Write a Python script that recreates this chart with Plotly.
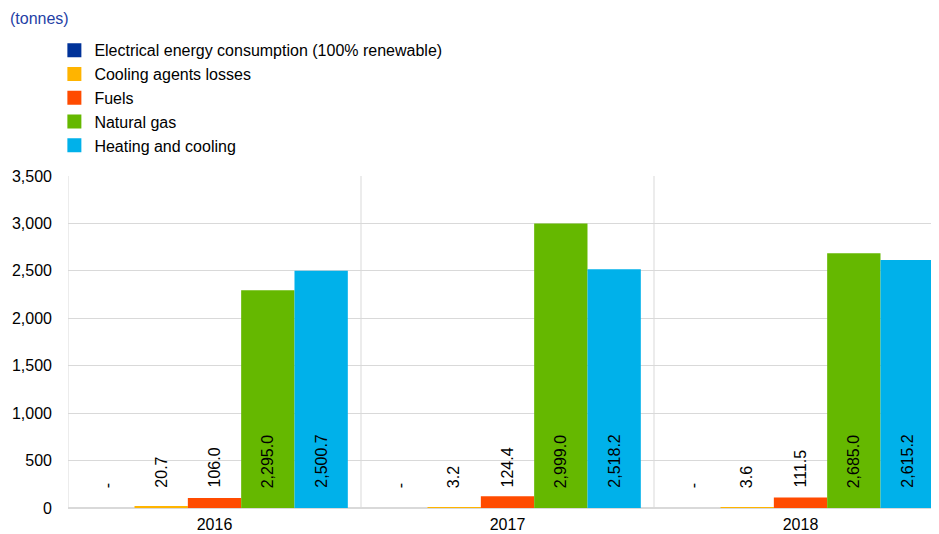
import plotly.graph_objects as go

FONT_FAMILY = "Arial, Liberation Sans, sans-serif"

years = ["2016", "2017", "2018"]
series_names = [
    "Electrical energy consumption (100% renewable)",
    "Cooling agents losses",
    "Fuels",
    "Natural gas",
    "Heating and cooling",
]
electrical = [0.0, 0.0, 0.0]
cooling_agents = [20.7, 3.2, 3.6]
fuels = [106.0, 124.4, 111.5]
natural_gas = [2295.0, 2999.0, 2685.0]
heating_cooling = [2500.7, 2518.2, 2615.2]
colors = ["#003299", "#FFB400", "#FF4B00", "#65B800", "#00B1EA"]

all_values = [electrical, cooling_agents, fuels, natural_gas, heating_cooling]

BARGAP = 0.09
n = len(series_names)
bar_w = (1 - BARGAP) / n
xpos = list(range(len(years)))


def fmt(v):
    return "-" if v == 0 else f"{v:,.1f}"


fig = go.Figure()
annotations = []
for j, (name, vals, col) in enumerate(zip(series_names, all_values, colors)):
    fig.add_trace(
        go.Bar(
            x=xpos,
            y=vals,
            name=name,
            marker=dict(color=col, line=dict(width=0)),
            hoverinfo="skip",
            showlegend=False,
        )
    )
    off = (j - (n - 1) / 2) * bar_w
    for i, v in enumerate(vals):
        annotations.append(
            dict(
                x=i + off, y=190, xref="x", yref="y",
                text=fmt(v), textangle=-90, showarrow=False,
                xanchor="center", yanchor="bottom",
                font=dict(family=FONT_FAMILY, size=16, color="#000000"),
            )
        )

# legend-only entries, so the legend squares can be a bit bigger
for name, col in zip(series_names, colors):
    fig.add_trace(
        go.Scatter(
            x=[None], y=[None], mode="markers", name=name,
            marker=dict(symbol="square", size=14, color=col),
            hoverinfo="skip",
        )
    )

# page is offset by the browser's 8px body margin
shapes = [
    dict(type="line", xref="x", yref="paper", x0=b, x1=b, y0=0, y1=1,
         line=dict(color="#D9D9D9", width=1), layer="below")
    for b in [-0.5, 0.5, 1.5]
]

fig.update_layout(
    barmode="group",
    bargap=BARGAP,
    bargroupgap=0,
    font=dict(family=FONT_FAMILY, size=16, color="#000000"),
    plot_bgcolor="white",
    paper_bgcolor="white",
    width=939,
    height=534,
    margin=dict(l=60, r=0, t=168, b=34),
    title=dict(
        text="(tonnes)", x=2 / 939, xref="container", xanchor="left",
        y=1 - 10 / 534, yref="container", yanchor="middle",
        font=dict(family=FONT_FAMILY, size=16, color="#1F3FA6"),
    ),
    legend=dict(
        x=-0.0155, y=1.43, xanchor="left", yanchor="top",
        traceorder="normal", bgcolor="rgba(0,0,0,0)",
        font=dict(family=FONT_FAMILY, size=16),
    ),
    xaxis=dict(
        range=[-0.5, 2.5], tickvals=xpos, ticktext=years,
        showgrid=False, zeroline=False, showline=False,
        ticklabelstandoff=5,
    ),
    yaxis=dict(
        range=[0, 3500], dtick=500, tickformat=",",
        gridcolor="#D9D9D9", zeroline=True, zerolinecolor="#D9D9D9",
        showline=False, ticklabelstandoff=15,
    ),
    annotations=annotations,
    shapes=shapes,
)

fig.write_html("out.html")
